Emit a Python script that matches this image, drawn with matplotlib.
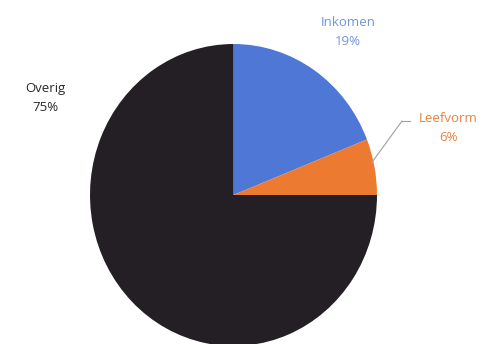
import numpy as np
import matplotlib.pyplot as plt

labels = ["Inkomen", "Leefvorm", "Overig"]
shares = [19, 6, 75]
colors = ["#4f78d6", "#ec7a30", "#241f24"]
label_colors = ["#7096dc", "#e8823e", "#2a2a2a"]

plt.rcParams['font.family'] = ['Open Sans', 'DejaVu Sans']

fig = plt.figure(figsize=(4.9, 3.44), dpi=100)
fig.patch.set_facecolor("white")

# pie sits slightly stretched vertically
ax = fig.add_axes([90 / 490, 1 - 346 / 344, 287 / 490, 302 / 344])
wedges, _ = ax.pie(shares, colors=colors, startangle=90, counterclock=False,
                   wedgeprops=dict(linewidth=0))
ax.set_aspect("auto")
ax.set_xlim(-1, 1)
ax.set_ylim(-1, 1)

# label positions in figure pixels (x, y from top)
text_pos = [(348, 32), (448, 128), (45, 98)]
for lab, val, col, (px, py) in zip(labels, shares, label_colors, text_pos):
    fig.text(px / 490, 1 - py / 344, f"{lab}\n{val}%", color=col,
             ha="center", va="center", fontsize=9.5, linespacing=1.6)

# leader line for the small slice
w = wedges[1]
mid = np.deg2rad((w.theta1 + w.theta2) / 2)
ax.annotate("", xy=(np.cos(mid) * 0.98, np.sin(mid) * 0.98 + 0.03), xycoords="data",
            xytext=(402 / 490, 1 - 121 / 344), textcoords="figure fraction",
            arrowprops=dict(arrowstyle="-", color="#a0a0a0", lw=0.8,
                            shrinkA=0, shrinkB=0))
ax.plot([402 / 490, 410 / 490], [1 - 121 / 344, 1 - 121 / 344],
        transform=fig.transFigure, color="#a0a0a0", lw=0.8, clip_on=False)

fig.savefig("out.png", dpi=100)
